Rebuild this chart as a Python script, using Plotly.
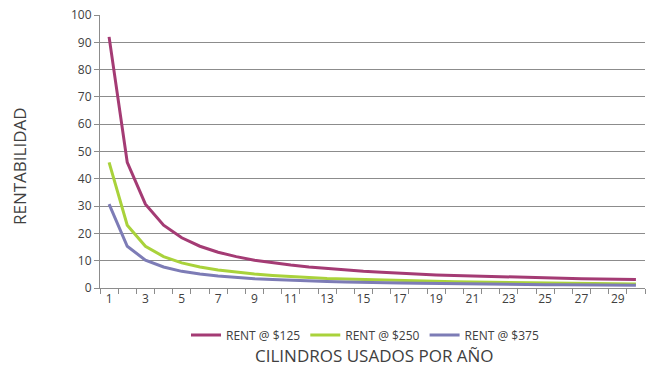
import plotly.graph_objects as go

cilindros = list(range(1, 31))
rent_125 = [92, 46, 30.7, 23, 18.4, 15.3, 13.1, 11.5, 10.2, 9.2, 8.4, 7.7, 7.1, 6.6, 6.1,
            5.8, 5.4, 5.1, 4.8, 4.6, 4.4, 4.2, 4.0, 3.8, 3.7, 3.5, 3.4, 3.3, 3.2, 3.1]
rent_250 = [46, 23, 15.3, 11.5, 9.2, 7.7, 6.6, 5.8, 5.1, 4.6, 4.2, 3.8, 3.5, 3.3, 3.1,
            2.9, 2.7, 2.6, 2.4, 2.3, 2.2, 2.1, 2.0, 1.9, 1.8, 1.8, 1.7, 1.6, 1.6, 1.5]
rent_375 = [30.7, 15.3, 10.2, 7.7, 6.1, 5.1, 4.4, 3.8, 3.4, 3.1, 2.8, 2.6, 2.4, 2.2, 2.0,
            1.9, 1.8, 1.7, 1.6, 1.5, 1.5, 1.4, 1.3, 1.3, 1.2, 1.2, 1.1, 1.1, 1.1, 1.0]
series_names = ["RENT @ $125", "RENT @ $250", "RENT @ $375"]
colors = ["#A43B74", "#A9D23B", "#7D7CB6"]
x_ticks = list(range(1, 30, 2))

fig = go.Figure()
for name, vals, c in zip(series_names, [rent_125, rent_250, rent_375], colors):
    fig.add_trace(go.Scatter(x=cilindros, y=vals, name=name, mode="lines",
                             line=dict(color=c, width=3)))

W, H = 648, 367
L, R, T, B = 100, 3, 15, 79
PH = H - T - B
PW = W - L - R

font_family = "Open Sans, Lato, sans-serif"
fig.update_layout(
    width=W, height=H,
    margin=dict(l=L, r=R, t=T, b=B, autoexpand=False),
    paper_bgcolor="white", plot_bgcolor="white",
    font=dict(family=font_family, color="#404040", size=12),
    showlegend=True,
    legend=dict(orientation="h", x=(365 - L) / PW, xanchor="center",
                y=-(335 - (T + PH)) / PH, yanchor="middle",
                font=dict(size=12, color="#404040")),
    xaxis=dict(
        range=[0.5, 30.5], tickvals=x_ticks, ticktext=[str(v) for v in x_ticks],
        ticks="", showgrid=False, showline=True, linecolor="#8c8c8c", linewidth=1,
        zeroline=False, automargin=False,
        minor=dict(ticks="outside", tick0=0.5, dtick=1, ticklen=5, tickcolor="#8c8c8c", showgrid=False),
        tickfont=dict(size=12, color="#404040"),
    ),
    yaxis=dict(
        range=[0, 100], dtick=10, showgrid=True, gridcolor="#8c8c8c", gridwidth=1,
        ticks="outside", ticklen=5, tickcolor="#8c8c8c",
        showline=True, linecolor="#8c8c8c", zeroline=False, automargin=False,
        tickfont=dict(size=12, color="#404040"),
    ),
    annotations=[
        dict(text="CILINDROS USADOS POR AÑO", xref="paper", yref="paper",
             x=(374 - L) / PW, y=-(355 - (T + PH)) / PH, xanchor="center", yanchor="middle",
             showarrow=False, font=dict(size=17, color="#404040")),
        dict(text="RENTABILIDAD", xref="paper", yref="paper", textangle=-90,
             x=-(L - 19) / PW, y=(T + PH - 166) / PH, xanchor="center", yanchor="middle",
             showarrow=False, font=dict(size=17, color="#404040")),
    ],
)

fig.write_html("out.html")
